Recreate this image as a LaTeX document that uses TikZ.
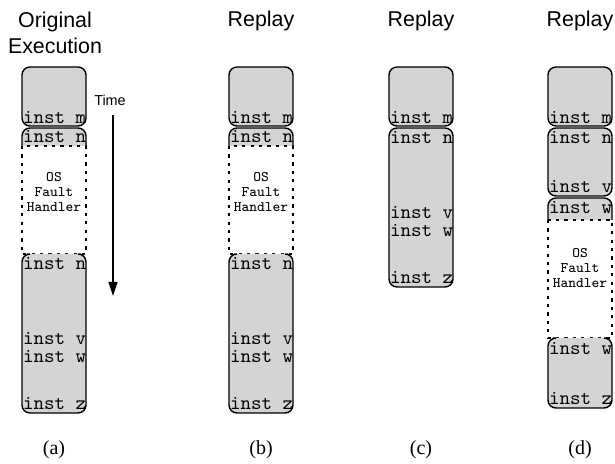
\documentclass[tikz,border=0pt]{standalone}
\usepackage{fontspec}
\setmainfont{Liberation Serif}
\newfontfamily\helv{Liberation Sans}
\usetikzlibrary{arrows.meta}
\definecolor{blockgray}{gray}{0.83}

\begin{document}
\begin{tikzpicture}[x=0.5pt, y=-0.5pt,
                    line width=0.7pt,
                    ]
    \tikzstyle{block}=[fill=blockgray, draw=black, rounded corners=4pt]
    \tikzstyle{fault}=[draw=black, line width=0.55pt, dash pattern=on 1.6pt off 2.6pt]
    \tikzstyle{inst}=[anchor=west, inner sep=0pt, font=\ttfamily\fontsize{10}{10}\selectfont]
    \tikzstyle{handler}=[align=center, inner sep=0pt, font=\ttfamily\fontsize{7.3}{7.5}\selectfont]
    \tikzstyle{title}=[align=center, inner sep=0pt, font=\helv\fontsize{10.7}{13}\selectfont]
    \tikzstyle{caption}=[inner sep=0pt, font=\fontsize{10}{12}\selectfont]

    \useasboundingbox (0,0) rectangle (615,464);

    % (a) original execution
    \draw[block] (22,67) rectangle (86,126);
    \path[block] (22,146) -- (22,128) -- (86,128) -- (86,146);
    \draw[fault] (22,146) rectangle (86,254);
    \path[block] (27,254) -- (22,254) -- (22,413) -- (86,413) -- (86,254) -- (81,254);
    \node[inst] (am) at (22.5,118) {inst m};
    \node[inst] (an) at (22.5,137) {inst n};
    \node[handler] (aos) at (54,192) {OS\\Fault\\Handler};
    \node[inst] (an2) at (22.5,264) {inst n};
    \node[inst] (av) at (22.5,339) {inst v};
    \node[inst] (aw) at (22.5,357) {inst w};
    \node[inst] (az) at (22.5,404) {inst z};

    % time arrow
    \node[inner sep=0pt, font=\helv\fontsize{7.2}{9}\selectfont] (time) at (110,100) {Time};
    \coordinate (tstart) at (113,115);
    \coordinate (tend) at (113,296);
    \draw[line width=0.6pt, -{Triangle[length=7pt, width=4.5pt]}] (tstart) -- (tend);

    % (b) replay
    \draw[block] (229,67) rectangle (293,126);
    \path[block] (229,146) -- (229,128) -- (293,128) -- (293,146);
    \draw[fault] (229,146) rectangle (293,254);
    \path[block] (234,254) -- (229,254) -- (229,413) -- (293,413) -- (293,254) -- (288,254);
    \node[inst] (bm) at (229.5,118) {inst m};
    \node[inst] (bn) at (229.5,137) {inst n};
    \node[handler] (bos) at (261,192) {OS\\Fault\\Handler};
    \node[inst] (bn2) at (229.5,264) {inst n};
    \node[inst] (bv) at (229.5,339) {inst v};
    \node[inst] (bw) at (229.5,357) {inst w};
    \node[inst] (bz) at (229.5,404) {inst z};

    % (c) replay
    \draw[block] (389,67) rectangle (453,126);
    \draw[block] (389,128) rectangle (453,287);
    \node[inst] (cm) at (389.5,118) {inst m};
    \node[inst] (cn) at (389.5,138) {inst n};
    \node[inst] (cv) at (389.5,213) {inst v};
    \node[inst] (cw) at (389.5,231) {inst w};
    \node[inst] (cz) at (389.5,278) {inst z};

    % (d) replay
    \draw[block] (548,67) rectangle (612,126);
    \draw[block] (548,128) rectangle (612,196);
    \path[block] (548,220) -- (548,198) -- (612,198) -- (612,220);
    \draw[fault] (548,220) rectangle (612,338);
    \path[block] (553,338) -- (548,338) -- (548,408) -- (612,408) -- (612,338) -- (607,338);
    \node[inst] (dm) at (548.5,118) {inst m};
    \node[inst] (dn) at (548.5,138) {inst n};
    \node[inst] (dv) at (548.5,187) {inst v};
    \node[inst] (dw) at (548.5,208) {inst w};
    \node[handler] (dos) at (580,268) {OS\\Fault\\Handler};
    \node[inst] (dw2) at (548.5,349) {inst w};
    \node[inst] (dz) at (548.5,399) {inst z};

    % titles and captions
    \node[title] (atitle) at (55,33) {Original\\Execution};
    \node[title] (btitle) at (261,21) {Replay};
    \node[title] (ctitle) at (421,21) {Replay};
    \node[title] (dtitle) at (580,21) {Replay};
    \node[caption] (acap) at (54,450) {(a)};
    \node[caption] (bcap) at (261,450) {(b)};
    \node[caption] (ccap) at (421,450) {(c)};
    \node[caption] (dcap) at (580,450) {(d)};
\end{tikzpicture}
\end{document}
